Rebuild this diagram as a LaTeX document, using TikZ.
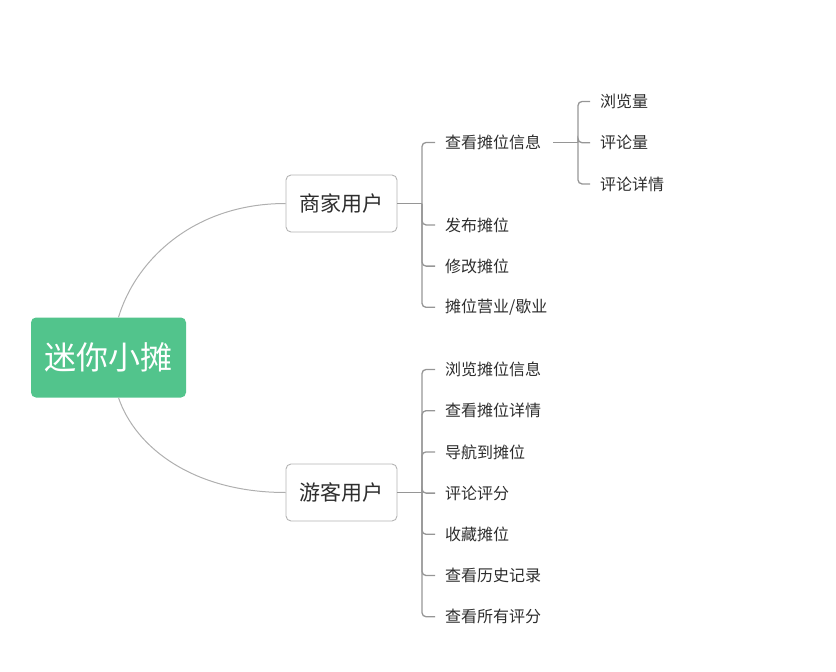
\documentclass[tikz,border=0pt]{standalone}
\usepackage{fontspec}
\newfontfamily\cjk{Noto Sans CJK SC}
\usetikzlibrary{positioning}
\definecolor{rootgreen}{RGB}{82,196,140}
\definecolor{txt}{RGB}{45,45,45}
\definecolor{lnk}{RGB}{150,150,150}
\definecolor{arcgray}{RGB}{175,175,175}
\definecolor{frame}{RGB}{180,180,180}

\begin{document}
\begin{tikzpicture}
 [x=1pt, y=-1pt,
  root node/.style={rectangle, rounded corners=5pt, fill=rootgreen, text=white, minimum width=155pt, minimum height=80pt, font=\cjk\fontsize{32}{32}\selectfont},
  user node/.style={rectangle, rounded corners=5pt, draw=frame, line width=0.9pt, fill=white, text=txt, minimum width=111pt, minimum height=57pt, font=\cjk\fontsize{21}{21}\selectfont},
  leaf node/.style={node distance=41.2pt, text width=110pt, align=left, inner sep=0pt, text=txt, font=\cjk\fontsize{16}{16}\selectfont},
  arc line/.style={draw=arcgray, line width=1pt},
  branch line/.style={draw=lnk, line width=1.3pt, rounded corners=4pt}]

\useasboundingbox (0,0) rectangle (836,672);

\node[root node] (root) at (108.5,357.5) {迷你小摊};
\node[user node] (merch) at (341.5,203.5) {商家用户};
\node[user node] (tour) at (341.5,492.5) {游客用户};

% merchant side
\node[leaf node, anchor=west] (info) at (445,142.5) {查看摊位信息};
\node[leaf node] (pub) [node distance=82.4pt, below of=info] {发布摊位};
\node[leaf node] (edit) [below of=pub] {修改摊位};
\node[leaf node] (open) [below of=edit] {摊位营业/歇业};

\node[leaf node, anchor=west] (views) at (600,101.5) {浏览量};
\node[leaf node] (ncomm) [below of=views] {评论量};
\node[leaf node] (dcomm) [below of=ncomm] {评论详情};

% tourist side
\node[leaf node, anchor=west] (browse) at (445,369.5) {浏览摊位信息};
\node[leaf node] (detail) [below of=browse] {查看摊位详情};
\node[leaf node] (nav) [below of=detail] {导航到摊位};
\node[leaf node] (rate) [below of=nav] {评论评分};
\node[leaf node] (fav) [below of=rate] {收藏摊位};
\node[leaf node] (hist) [below of=fav] {查看历史记录};
\node[leaf node] (allr) [below of=hist] {查看所有评分};

\coordinate (mj) at (422,203.5);
\coordinate (ij) at (578,142.5);
\coordinate (tj) at (422,492.5);

\draw[arc line] ([xshift=10pt]root.north) .. controls +(17,-57) and +(-92,0) .. (merch.west);
\draw[arc line] ([xshift=10pt]root.south) .. controls +(17,50) and +(-92,0) .. (tour.west);

\draw[branch line] (merch) -- (mj);
\foreach \c in {info,pub,edit,open}
  \draw[branch line] (mj) |- ([xshift=-10pt]\c.west);

\draw[branch line] ([xshift=-2pt]info.east) -- (ij);
\foreach \c in {views,ncomm,dcomm}
  \draw[branch line] (ij) |- ([xshift=-10pt]\c.west);

\draw[branch line] (tour) -- (tj);
\foreach \c in {browse,detail,nav,rate,fav,hist,allr}
  \draw[branch line] (tj) |- ([xshift=-10pt]\c.west);

\end{tikzpicture}
\end{document}
